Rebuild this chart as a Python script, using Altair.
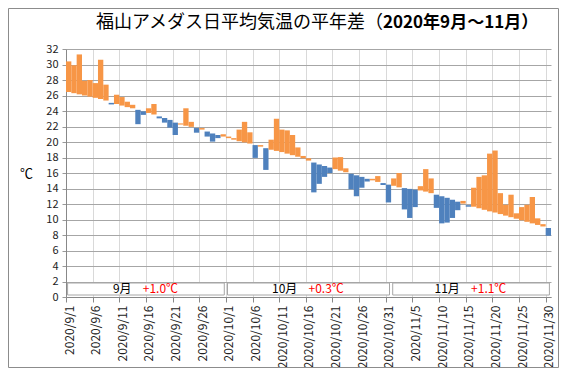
import altair as alt
import pandas as pd
import numpy as np

FONT = "Noto Sans CJK JP"

# daily mean temperature (actual) and normal, 2020/9/1 .. 2020/11/30
actual = [30.4, 29.9, 31.3, 27.9, 28.0, 27.6, 30.6, 27.4, 24.85, 26.1,
          25.8, 25.2, 24.8, 22.3, 23.5, 24.35, 24.9, 23.05, 22.5, 21.85,
          20.9, 22.4, 24.35, 22.6, 21.2, 21.8, 20.7, 20.05, 20.5, 21.0,
          20.7, 20.5, 21.6, 22.6, 21.25, 17.95, 19.6, 16.4, 20.3, 23.0,
          21.6, 21.5, 20.9, 19.3, 18.2, 17.9, 13.5, 14.6, 15.5, 16.0,
          18.0, 18.05, 16.6, 13.9, 13.0, 14.1, 14.9, 15.25, 15.6, 14.45,
          12.2, 15.3, 16.0, 11.3, 10.2, 11.6, 14.3, 16.5, 15.3, 11.5,
          9.5, 9.6, 10.2, 11.2, 12.4, 11.65, 14.1, 15.5, 15.7, 18.5,
          18.9, 13.4, 11.9, 13.2, 10.8, 11.6, 11.9, 12.9, 10.15, 9.4,
          7.9]
normal = [26.45, 26.3, 26.15, 26.0, 25.85, 25.7, 25.55, 25.35, 25.05, 24.9,
          24.7, 24.5, 24.35, 24.15, 23.95, 23.75, 23.55, 23.3, 23.1, 22.85,
          22.5, 22.25, 22.1, 21.95, 21.8, 21.6, 21.35, 21.1, 20.9, 20.7,
          20.5, 20.3, 20.1, 19.95, 19.8, 19.6, 19.4, 19.2, 19.0, 18.85,
          18.7, 18.5, 18.3, 18.1, 17.9, 17.6, 17.35, 17.1, 16.9, 16.7,
          16.5, 16.3, 16.1, 15.9, 15.7, 15.5, 15.25, 15.05, 14.85, 14.7,
          14.5, 14.35, 14.15, 14.05, 13.95, 13.85, 13.75, 13.6, 13.4, 13.2,
          13.0, 12.8, 12.55, 12.3, 12.05, 11.85, 11.65, 11.45, 11.25, 11.05,
          10.9, 10.7, 10.5, 10.3, 10.1, 9.9, 9.7, 9.5, 9.3, 9.1,
          8.9]

tick_labels = ["2020/9/1", "2020/9/6", "2020/9/11", "2020/9/16", "2020/9/21",
               "2020/9/26", "2020/10/1", "2020/10/6", "2020/10/11", "2020/10/16",
               "2020/10/21", "2020/10/26", "2020/10/31", "2020/11/5", "2020/11/10",
               "2020/11/15", "2020/11/20", "2020/11/25", "2020/11/30"]

months = ["9月", "10月", "11月"]
month_anom = ["+1.0℃", "+0.3℃", "+1.1℃"]
month_start = [0, 30, 61]
month_end = [30, 61, 91]

title_a = "福山アメダス日平均気温の平年差（"
title_b = "2020年9月～11月）"

df = pd.DataFrame({"d": list(range(len(actual))), "actual": actual, "normal": normal})
df["d1"] = df["d"] + 1
df["sign"] = np.where(df["actual"] >= df["normal"], "pos", "neg")

label_expr = "[" + ",".join("'%s'" % s for s in tick_labels) + "][round(datum.value / 5)]"

x_axis = alt.Axis(values=list(range(0, 91, 5)), labelExpr=label_expr,
                  labelAngle=270, labelFontSize=12, labelFont=FONT,
                  labelColor="#222222", labelPadding=3, labelOffset=3,
                  tickSize=5, tickColor="#888888", domainColor="#888888",
                  grid=True, gridColor="#d9d9d9", title=None,
                  labelOverlap=False, labelFlush=False, labelBound=False)

bars = alt.Chart(df).mark_rect().encode(
    x=alt.X("d:Q", scale=alt.Scale(domain=[0, 91], nice=False, zero=False), axis=x_axis),
    x2="d1:Q",
    y=alt.Y("normal:Q",
            scale=alt.Scale(domain=[0, 32], nice=False, zero=True),
            axis=alt.Axis(values=list(range(0, 33, 2)), labelFontSize=11, labelFont=FONT,
                          labelColor="#222222", labelPadding=4, tickSize=4,
                          tickColor="#999999", domainColor="#888888",
                          grid=True, gridColor="#a6a6a6",
                          title="℃", titleAngle=0, titleX=-40, titleY=124,
                          titleAlign="center", titleBaseline="middle",
                          titleFontSize=13, titleFont=FONT, titleFontWeight="normal",
                          titleColor="#000000")),
    y2="actual:Q",
    color=alt.Color("sign:N", scale=alt.Scale(domain=["pos", "neg"],
                                              range=["#F79646", "#4F81BD"]), legend=None),
)

mdf = pd.DataFrame({"m": months, "a": month_anom, "s": month_start, "e": month_end})

boxes = alt.Chart(mdf).transform_calculate(
    xs="datum.s + 0.3", xe="datum.e - 0.3"
).mark_rect(fill="white", stroke="#a6a6a6", strokeWidth=1).encode(
    x=alt.X("xs:Q", axis=x_axis), x2="xe:Q",
    y=alt.value(234), y2=alt.value(246),
)

mtext = alt.Chart(mdf).transform_calculate(
    xm="(datum.s + datum.e) / 2 - 2.7 + 0.6 * (length(datum.m) - 2)"
).mark_text(align="right", baseline="middle", fontSize=12, font=FONT, color="#000000").encode(
    x=alt.X("xm:Q", axis=x_axis), y=alt.value(240), text="m:N"
)

atext = alt.Chart(mdf).transform_calculate(
    xa="(datum.s + datum.e) / 2 - 0.6 + 0.6 * (length(datum.m) - 2)"
).mark_text(align="left", baseline="middle", fontSize=12, font=FONT, color="#ff0000").encode(
    x=alt.X("xa:Q", axis=x_axis), y=alt.value(240), text="a:N"
)

ta = alt.Chart(pd.DataFrame({"t": [title_a]})).mark_text(
    align="right", baseline="middle", fontSize=18, font=FONT, color="#000000"
).encode(x=alt.value(317), y=alt.value(-26), text="t:N")

tb = alt.Chart(pd.DataFrame({"t": [title_b]})).mark_text(
    align="left", baseline="middle", fontSize=17, font=FONT, fontWeight="bold", color="#000000"
).encode(x=alt.value(317), y=alt.value(-26), text="t:N")

frame = alt.Chart(pd.DataFrame({"k": [0]})).mark_rect(
    filled=False, color="#8c8c8c", strokeWidth=1
).encode(x=alt.value(-57.5), x2=alt.value(492.5), y=alt.value(-40.5), y2=alt.value(318.5))

chart = alt.layer(bars, boxes, mtext, atext, ta, tb, frame).properties(
    width=485, height=248,
    padding={"left": 58, "top": 41, "right": 8, "bottom": 71},
    autosize=alt.AutoSizeParams(type="none"),
    background="white",
).configure_view(strokeWidth=0)

chart.save("out.html", embed_options={"renderer": "svg", "actions": False})
